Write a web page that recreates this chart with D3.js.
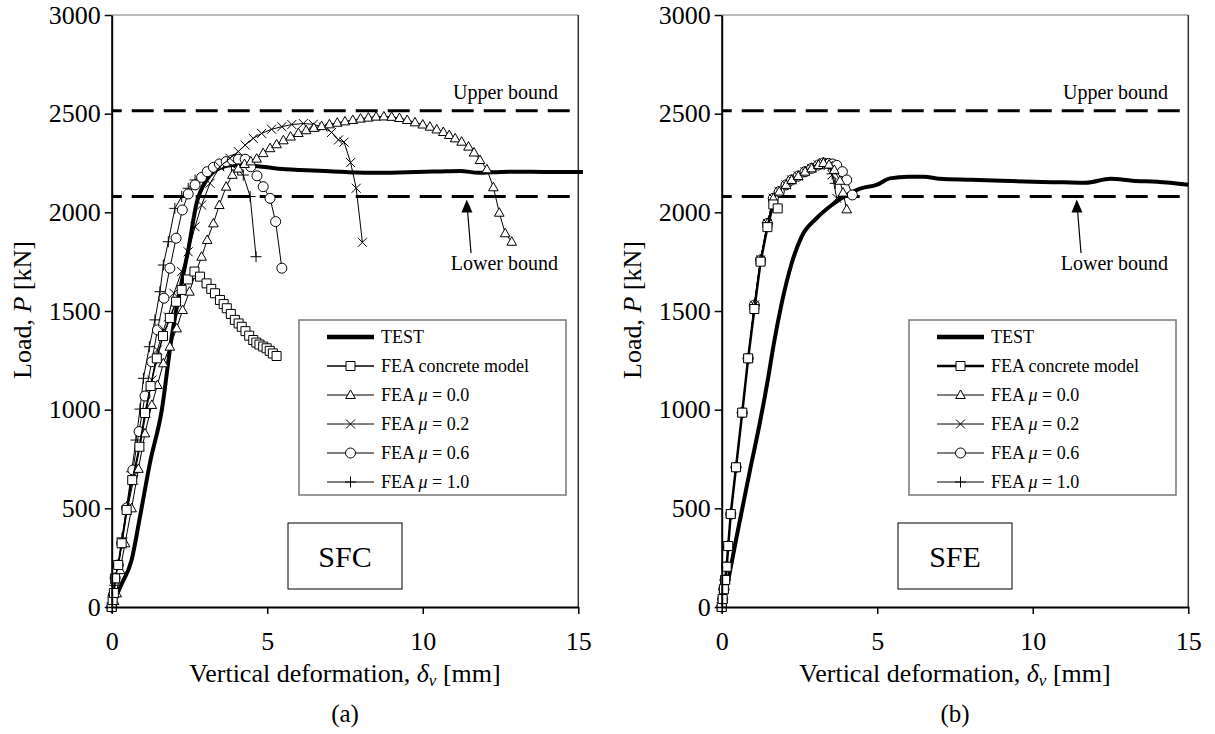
<!DOCTYPE html>
<html>
<head>
<meta charset="utf-8">
<script src="https://cdn.jsdelivr.net/npm/d3@7"></script>
<style>
  body { margin: 0; background: #fff; }
  svg { display: block; font-family: "Liberation Serif", "Times New Roman", serif; }
</style>
</head>
<body>
<div id="app"></div>
<script>
// ---- data ----
const xTicks = [0, 5, 10, 15];
const yTicks = [0, 500, 1000, 1500, 2000, 2500, 3000];
const upperBound = 2515;
const lowerBound = 2080;

const legendLabels = ['TEST', 'FEA concrete model', '0.0', '0.2', '0.6', '1.0'];

// (a) SFC
const sfcTest = [[0,0],[0.3,110],[0.64,238],[0.91,458],[1.23,730],[1.61,998],[1.93,1370],[2.2,1607],[2.46,1809],[2.73,2047],[3.05,2164],[3.48,2225],[3.9,2240],[4.5,2236],[5.0,2228],[5.5,2220],[6.05,2215],[7.0,2208],[7.55,2204],[8.5,2200],[9.5,2203],[10.5,2207],[11.2,2210],[11.8,2200],[12.5,2205],[13.5,2206],[14.3,2204],[15.15,2205]];
const sfcConcrete = [[0,0],[0.03,35],[0.07,71],[0.11,145],[0.21,213],[0.32,323],[0.48,492],[0.66,643],[0.89,812],[1.07,983],[1.25,1120],[1.45,1260],[1.65,1373],[1.87,1465],[2.07,1547],[2.25,1607],[2.45,1660],[2.66,1700],[2.84,1674],[3.05,1640],[3.2,1612],[3.32,1590],[3.48,1556],[3.6,1535],[3.7,1514],[3.83,1485],[3.96,1455],[4.08,1437],[4.18,1420],[4.3,1398],[4.42,1375],[4.55,1353],[4.65,1340],[4.75,1330],[4.87,1320],[4.98,1311],[5.08,1298],[5.18,1285],[5.3,1272]];
const sfcMu00 = [[0,0],[0.08,30],[0.16,69],[0.27,187],[0.43,323],[0.64,500],[0.86,700],[1.07,880],[1.29,1024],[1.47,1125],[1.66,1235],[1.87,1319],[2.09,1412],[2.28,1505],[2.5,1598],[2.68,1683],[2.89,1775],[3.07,1860],[3.27,1944],[3.46,2037],[3.68,2130],[3.88,2190],[4.07,2222],[4.27,2245],[4.47,2258],[4.66,2272],[4.87,2300],[5.09,2325],[5.3,2345],[5.52,2365],[5.75,2384],[6.0,2402],[6.25,2416],[6.5,2428],[6.75,2437],[7.0,2446],[7.25,2454],[7.5,2461],[7.75,2468],[8.0,2475],[8.25,2480],[8.5,2485],[8.75,2486],[9.0,2484],[9.25,2478],[9.5,2468],[9.75,2456],[10.0,2445],[10.23,2434],[10.45,2420],[10.66,2407],[10.85,2392],[11.04,2375],[11.25,2358],[11.47,2333],[11.65,2303],[11.84,2265],[12.06,2218],[12.27,2127],[12.46,1998],[12.65,1894],[12.86,1851]];
const sfcMu02 = [[0,0],[0.1,140],[0.22,210],[0.33,320],[0.5,490],[0.7,643],[0.91,812],[1.1,981],[1.29,1150],[1.47,1302],[1.65,1400],[1.82,1470],[2.0,1590],[2.25,1700],[2.46,1800],[2.68,1927],[2.89,2037],[3.16,2147],[3.48,2231],[3.8,2274],[4.07,2308],[4.29,2341],[4.55,2375],[4.82,2400],[5.14,2421],[5.47,2434],[5.79,2445],[6.16,2450],[6.48,2446],[6.8,2432],[7.07,2405],[7.29,2367],[7.47,2356],[7.68,2252],[7.86,2122],[8.06,1848]];
const sfcMu06 = [[0,0],[0.05,60],[0.11,147],[0.21,213],[0.32,323],[0.48,502],[0.68,694],[0.88,889],[1.07,1069],[1.29,1243],[1.47,1404],[1.68,1565],[1.87,1717],[2.07,1869],[2.27,2012],[2.46,2093],[2.68,2139],[2.89,2177],[3.07,2206],[3.27,2228],[3.46,2245],[3.68,2257],[3.88,2265],[4.07,2269],[4.29,2269],[4.47,2231],[4.67,2185],[4.87,2130],[5.09,2071],[5.27,1953],[5.47,1717]];
const sfcMu10 = [[0,0],[0.05,50],[0.1,110],[0.2,210],[0.33,350],[0.48,508],[0.64,685],[0.78,846],[0.91,1003],[1.02,1159],[1.21,1319],[1.39,1455],[1.55,1598],[1.66,1733],[1.82,1851],[2.03,2020],[2.25,2080],[2.46,2122],[2.68,2164],[2.95,2195],[3.27,2223],[3.59,2240],[3.85,2238],[4.05,2215],[4.23,2189],[4.45,2080],[4.64,1775]];

// (b) SFE
const sfeTest = [[0,0],[0.2,130],[0.48,356],[0.91,694],[1.18,897],[1.5,1167],[1.66,1320],[1.93,1540],[2.25,1742],[2.57,1877],[3.05,1970],[3.54,2037],[4.02,2088],[4.45,2120],[4.98,2139],[5.41,2172],[6.0,2180],[6.5,2180],[7.0,2170],[8.0,2165],[9.0,2160],[10.0,2155],[11.0,2152],[11.7,2150],[12.5,2170],[13.2,2160],[14.0,2155],[15.0,2140]];
const sfeConcrete = [[0,0],[0.03,40],[0.07,90],[0.11,137],[0.16,204],[0.21,309],[0.29,471],[0.46,708],[0.66,985],[0.85,1260],[1.05,1510],[1.25,1750],[1.47,1925],[1.66,2040],[1.8,2020]];
const sfeMu00 = [[0,0],[0.03,40],[0.07,90],[0.11,137],[0.16,204],[0.21,309],[0.29,471],[0.46,708],[0.66,985],[0.85,1260],[1.05,1530],[1.25,1759],[1.47,1944],[1.66,2071],[1.85,2105],[2.07,2139],[2.25,2164],[2.46,2184],[2.68,2206],[2.89,2223],[3.11,2240],[3.27,2250],[3.45,2242],[3.62,2215],[3.8,2160],[3.9,2100],[4.02,2015]];
const sfeMu02 = [[0,0],[0.03,40],[0.07,90],[0.11,137],[0.16,204],[0.21,309],[0.29,471],[0.46,708],[0.66,985],[0.85,1260],[1.05,1530],[1.25,1759],[1.47,1944],[1.66,2071],[1.85,2105],[2.07,2139],[2.25,2164],[2.46,2184],[2.68,2206],[2.89,2223],[3.11,2240],[3.27,2252],[3.43,2238],[3.55,2190],[3.7,2071]];
const sfeMu06 = [[0,0],[0.03,40],[0.07,90],[0.11,137],[0.16,204],[0.21,309],[0.29,471],[0.46,708],[0.66,985],[0.85,1260],[1.05,1530],[1.25,1759],[1.47,1944],[1.66,2071],[1.85,2105],[2.07,2139],[2.25,2164],[2.46,2184],[2.68,2206],[2.89,2223],[3.11,2240],[3.27,2250],[3.43,2248],[3.57,2245],[3.7,2238],[3.88,2206],[4.02,2164],[4.2,2088]];
const sfeMu10 = [[0,0],[0.03,40],[0.07,90],[0.11,137],[0.16,204],[0.21,309],[0.29,471],[0.46,708],[0.66,985],[0.85,1260],[1.05,1530],[1.25,1759],[1.47,1944],[1.66,2071],[1.85,2105],[2.07,2139],[2.25,2164],[2.46,2184],[2.68,2206],[2.89,2223],[3.11,2240],[3.27,2252],[3.43,2240],[3.55,2195],[3.65,2147]];

// ---- layout ----
const width = 1215, height = 734;
const plot = { left: 111.7, right: 578.3, top: 15, bottom: 607 };
const serif = '"Liberation Serif", "Times New Roman", serif';

const svg = d3.select('#app').append('svg')
  .attr('width', width)
  .attr('height', height);

// marker shapes
function markerPath(type) {
  switch (type) {
    case 'square': return 'M-4.5,-4.5H4.5V4.5H-4.5Z';
    case 'triangle': return 'M0,-5L4.8,3.5H-4.8Z';
    case 'circle': return 'M5,0A5,5 0 1,1 -5,0A5,5 0 1,1 5,0Z';
    case 'cross': return 'M-4.5,-4.5L4.5,4.5M-4.5,4.5L4.5,-4.5';
    case 'plus': return 'M-5.5,0H5.5M0,-5.5V5.5';
  }
  return '';
}

function drawPanel(dx, series, name, caption) {
  const g = svg.append('g').attr('transform', `translate(${dx},0)`);

  const x = d3.scaleLinear().domain([0, 15]).range([plot.left, plot.right]);
  const y = d3.scaleLinear().domain([0, 3000]).range([plot.bottom, plot.top]);

  // frame (top / right)
  g.append('line')
    .attr('x1', plot.left).attr('x2', plot.right)
    .attr('y1', plot.top).attr('y2', plot.top)
    .attr('stroke', '#777').attr('stroke-width', 1);
  g.append('line')
    .attr('x1', plot.right).attr('x2', plot.right)
    .attr('y1', plot.top).attr('y2', plot.bottom)
    .attr('stroke', '#333').attr('stroke-width', 1.5);

  // bounds
  [upperBound, lowerBound].forEach(v => {
    g.append('line')
      .attr('x1', plot.left).attr('x2', plot.right - 3)
      .attr('y1', y(v)).attr('y2', y(v))
      .attr('stroke', '#000').attr('stroke-width', 3)
      .attr('stroke-dasharray', '22,10')
      .attr('stroke-dashoffset', 12);
  });

  // legend box
  const lg = g.append('g');
  lg.append('rect')
    .attr('x', 299).attr('y', 320).attr('width', 267).attr('height', 175)
    .attr('fill', '#fff').attr('stroke', '#777').attr('stroke-width', 1.5);

  // specimen box
  g.append('rect')
    .attr('x', 288).attr('y', 523).attr('width', 114).attr('height', 66)
    .attr('fill', '#fff').attr('stroke', '#000').attr('stroke-width', 1);
  g.append('text')
    .attr('x', 345).attr('y', 567)
    .attr('text-anchor', 'middle')
    .attr('font-size', 30)
    .text(name);

  const line = d3.line().x(d => x(d[0])).y(d => y(d[1]));

  // TEST
  g.append('path')
    .datum(series.test)
    .attr('d', line.curve(d3.curveMonotoneX))
    .attr('fill', 'none').attr('stroke', '#000').attr('stroke-width', 4);
  line.curve(d3.curveLinear);

  const fea = [
    { data: series.mu10, type: 'plus', w: 1 },
    { data: series.mu06, type: 'circle', w: 1 },
    { data: series.mu02, type: 'cross', w: 1 },
    { data: series.mu00, type: 'triangle', w: 1 },
    { data: series.concrete, type: 'square', w: series.concreteWidth }
  ];

  fea.forEach(s => {
    g.append('path')
      .datum(s.data)
      .attr('d', line)
      .attr('fill', 'none').attr('stroke', '#000').attr('stroke-width', s.w);
    g.append('g').selectAll('path')
      .data(s.data)
      .join('path')
      .attr('transform', d => `translate(${x(d[0])},${y(d[1])})`)
      .attr('d', markerPath(s.type))
      .attr('fill', s.type === 'cross' || s.type === 'plus' ? 'none' : '#fff')
      .attr('stroke', '#000').attr('stroke-width', 1);
  });

  // axes
  const yAxis = g.append('g')
    .attr('transform', `translate(${plot.left},0)`)
    .call(d3.axisLeft(y).tickValues(yTicks).tickFormat(d3.format('d'))
      .tickSize(7).tickSizeOuter(0).tickPadding(4));
  const xAxis = g.append('g')
    .attr('transform', `translate(0,${plot.bottom})`)
    .call(d3.axisBottom(x).tickValues(xTicks).tickFormat(d3.format('d'))
      .tickSize(7).tickSizeOuter(0).tickPadding(18));
  [xAxis, yAxis].forEach(a => {
    a.attr('font-family', serif);
    a.select('.domain').attr('stroke-width', 2);
    a.selectAll('.tick line').attr('stroke-width', 1.5);
    a.selectAll('.tick text')
      .attr('font-family', serif)
      .attr('font-size', 26).attr('fill', '#000');
  });

  // bound labels and arrow
  g.append('text')
    .attr('x', 558).attr('y', 99)
    .attr('text-anchor', 'end').attr('font-size', 20)
    .text('Upper bound');
  g.append('text')
    .attr('x', 558).attr('y', 270)
    .attr('text-anchor', 'end').attr('font-size', 20)
    .text('Lower bound');
  g.append('line')
    .attr('x1', 471).attr('y1', 253).attr('x2', 467.5).attr('y2', 210)
    .attr('stroke', '#000').attr('stroke-width', 1.2);
  g.append('path')
    .attr('d', 'M466.8,199.5L472.5,212.5H461.5Z')
    .attr('fill', '#000');

  // legend entries
  const rowY = d3.range(6).map(i => 337 + i * 29);
  const legendItems = [
    { type: null, w: 4.5 },
    { type: 'square', w: series.concreteWidth },
    { type: 'triangle', w: 1 },
    { type: 'cross', w: 1 },
    { type: 'circle', w: 1 },
    { type: 'plus', w: 1 }
  ];
  legendItems.forEach((it, i) => {
    const ry = rowY[i];
    lg.append('line')
      .attr('x1', 327).attr('x2', 374).attr('y1', ry).attr('y2', ry)
      .attr('stroke', '#000').attr('stroke-width', it.w);
    if (it.type) {
      lg.append('path')
        .attr('transform', `translate(350.5,${ry})`)
        .attr('d', markerPath(it.type))
        .attr('fill', it.type === 'cross' || it.type === 'plus' ? 'none' : '#fff')
        .attr('stroke', '#000').attr('stroke-width', 1);
    }
    const t = lg.append('text').attr('x', 381).attr('y', ry + 6).attr('font-size', 18);
    if (i < 2) {
      t.text(legendLabels[i]);
    } else {
      t.append('tspan').text('FEA ');
      t.append('tspan').attr('font-style', 'italic').text('μ');
      t.append('tspan').text(' = ' + legendLabels[i]);
    }
  });

  // axis titles
  const xt = g.append('text')
    .attr('x', 345).attr('y', 682)
    .attr('text-anchor', 'middle').attr('font-size', 26);
  xt.append('tspan').text('Vertical deformation, ');
  xt.append('tspan').attr('font-style', 'italic').text('δ');
  xt.append('tspan').attr('font-style', 'italic').attr('font-size', 17).attr('dy', 4).text('v');
  xt.append('tspan').attr('dy', -4).text(' [mm]');

  const yt = g.append('text')
    .attr('transform', 'translate(31,310) rotate(-90)')
    .attr('text-anchor', 'middle').attr('font-size', 26);
  yt.append('tspan').text('Load, ');
  yt.append('tspan').attr('font-style', 'italic').text('P');
  yt.append('tspan').text(' [kN]');

  g.append('text')
    .attr('x', 345).attr('y', 722)
    .attr('text-anchor', 'middle').attr('font-size', 25)
    .text(caption);
}

drawPanel(0, {
  test: sfcTest, concrete: sfcConcrete, concreteWidth: 1.5,
  mu00: sfcMu00, mu02: sfcMu02, mu06: sfcMu06, mu10: sfcMu10
}, 'SFC', '(a)');

drawPanel(610, {
  test: sfeTest, concrete: sfeConcrete, concreteWidth: 2.5,
  mu00: sfeMu00, mu02: sfeMu02, mu06: sfeMu06, mu10: sfeMu10
}, 'SFE', '(b)');
</script>
</body>
</html>
